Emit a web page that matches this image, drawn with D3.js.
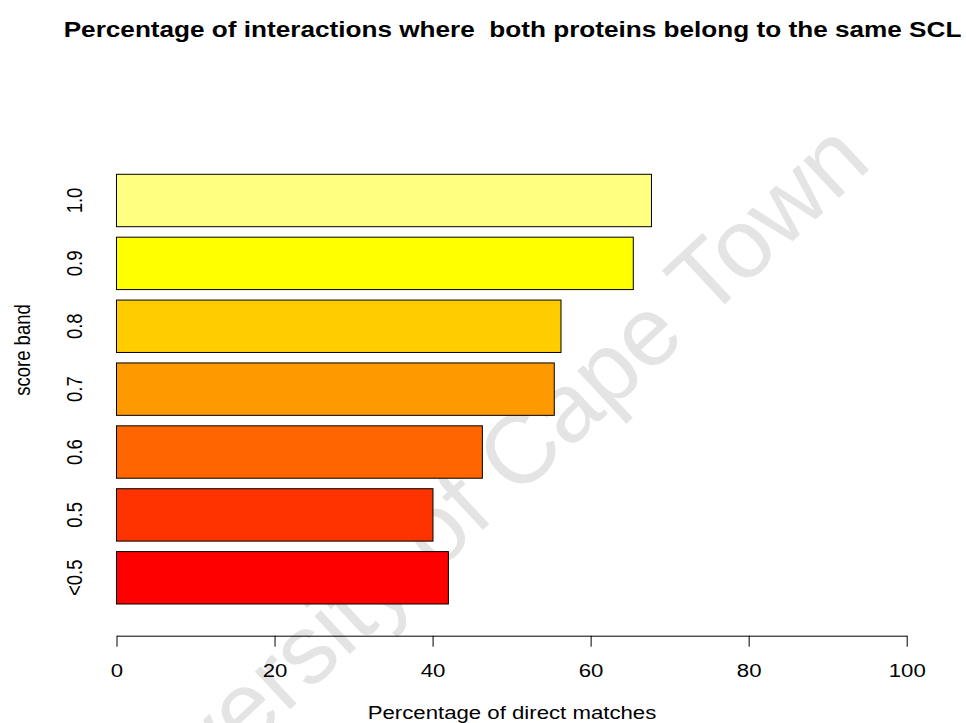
<!DOCTYPE html>
<html>
<head>
<meta charset="utf-8">
<script src="https://cdn.jsdelivr.net/npm/d3@7"></script>
<style>
  html, body { margin: 0; padding: 0; background: #fff; }
  svg { display: block; }
  text { font-family: "Liberation Sans", Arial, Helvetica, sans-serif; }
</style>
</head>
<body>
<svg id="chart" width="966" height="723"></svg>
<script>
// Score bands, listed from the top bar down
const bands = ["1.0", "0.9", "0.8", "0.7", "0.6", "0.5", "<0.5"];
// Percentage of interactions with both proteins in the same SCL
const percentages = [67.7, 65.4, 56.25, 55.4, 46.3, 40.05, 42.0];
const barColors = ["#FFFF80", "#FFFF00", "#FFCC00", "#FF9900", "#FF6600", "#FF3300", "#FF0000"];
const xTicks = [0, 20, 40, 60, 80, 100];

const titleText = "Percentage of interactions where  both proteins belong to the same SCL";
const xLabel = "Percentage of direct matches";
const yLabel = "score band";
const watermark = "University of Cape Town";

// Chart lettering is drawn slightly wide
const stretch = 1.2;

const svg = d3.select("#chart");

const x = d3.scaleLinear().domain([0, 100]).range([116.5, 906.7]);
const y = d3.scaleBand().domain(bands).range([174.3, 604]).paddingInner(1 / 6).paddingOuter(0);

// Faint diagonal watermark behind the plot
svg.append("text")
  .attr("transform", "translate(102,885) rotate(-43)")
  .attr("font-size", 98)
  .attr("fill", "#e4e4e4")
  .style("white-space", "pre")
  .text(watermark);

// Bars
svg.append("g")
  .selectAll("rect")
  .data(bands)
  .join("rect")
  .attr("x", x(0))
  .attr("y", d => y(d))
  .attr("width", (d, i) => x(percentages[i]) - x(0))
  .attr("height", y.bandwidth())
  .attr("fill", (d, i) => barColors[i])
  .attr("stroke", "#000")
  .attr("stroke-width", 1);

// Bottom axis
const axisY = 635.7;
const xAxis = svg.append("g")
  .attr("transform", `translate(0,${axisY})`)
  .call(d3.axisBottom(x).tickValues(xTicks).tickSize(11).tickSizeOuter(0).tickPadding(17).tickFormat(d3.format("d")));
xAxis.select(".domain").attr("stroke", "#000");
xAxis.selectAll(".tick line").attr("stroke", "#000");
xAxis.selectAll(".tick text")
  .attr("transform", `scale(${stretch},1)`)
  .attr("font-family", "Liberation Sans, Arial, sans-serif")
  .attr("font-size", 18.5)
  .attr("fill", "#000");

// Band labels, rotated, no axis line or ticks
const yAxis = svg.append("g")
  .attr("transform", `translate(${x(0)},0)`)
  .call(d3.axisLeft(y).tickSize(0));
yAxis.select(".domain").remove();
yAxis.selectAll(".tick text")
  .attr("transform", `translate(${-(x(0) - 82)},0) scale(${stretch},1) rotate(-90)`)
  .attr("x", 0)
  .attr("y", 0)
  .attr("dy", 0)
  .attr("text-anchor", "middle")
  .attr("font-family", "Liberation Sans, Arial, sans-serif")
  .attr("font-size", 18.5)
  .attr("fill", "#000");

// Title
svg.append("text")
  .attr("transform", `translate(512.5,37) scale(${stretch},1)`)
  .attr("text-anchor", "middle")
  .attr("font-size", 21.8)
  .attr("font-weight", "bold")
  .style("white-space", "pre")
  .text(titleText);

// Axis titles
svg.append("text")
  .attr("transform", `translate(512,719) scale(${stretch},1)`)
  .attr("text-anchor", "middle")
  .attr("font-size", 18.5)
  .text(xLabel);

svg.append("text")
  .attr("transform", `translate(30,350) scale(${stretch},1) rotate(-90)`)
  .attr("text-anchor", "middle")
  .attr("font-size", 18.5)
  .text(yLabel);
</script>
</body>
</html>
